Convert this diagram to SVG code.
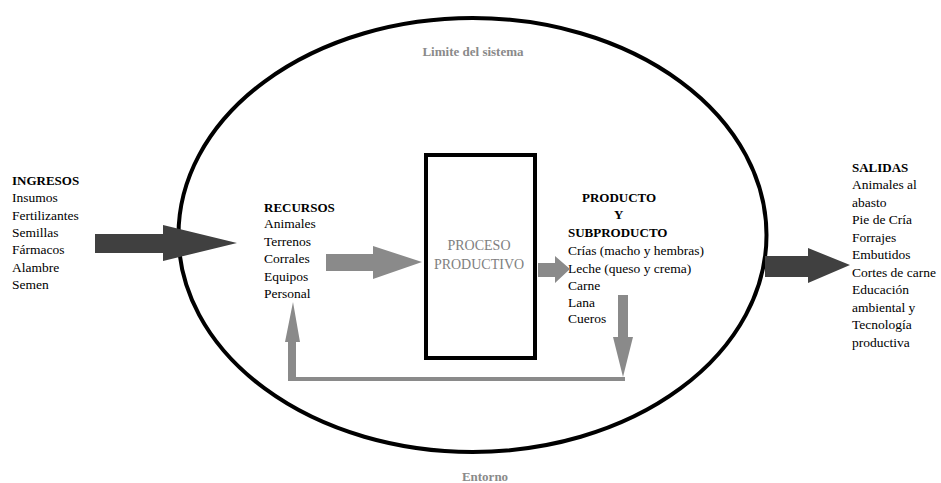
<svg xmlns="http://www.w3.org/2000/svg" width="941" height="483" viewBox="0 0 941 483">
<style>
text{font-family:"Liberation Serif","Times New Roman",serif;font-size:13.5px;fill:#000}
.h{font-weight:bold;font-size:13px}
.g{fill:#8a8a8a;font-weight:bold;font-size:13px}
.pp{fill:#808080;font-size:14px}
.dark{fill:#404040}
.gray{fill:#8a8a8a}
</style>
<rect width="941" height="483" fill="#fff"/>
<g id="boundary">
<ellipse cx="472.5" cy="235" rx="294" ry="217" fill="none" stroke="#000" stroke-width="4"/>
<text class="g" x="473" y="56" text-anchor="middle">Limite del sistema</text>
<text class="g" x="485" y="481" text-anchor="middle">Entorno</text>
</g>
<g id="ingresos">
<text class="h" x="12" y="185">INGRESOS</text>
<text x="12" y="202">Insumos</text>
<text x="12" y="220">Fertilizantes</text>
<text x="12" y="237">Semillas</text>
<text x="12" y="254">Fármacos</text>
<text x="12" y="272">Alambre</text>
<text x="12" y="289">Semen</text>
</g>
<g id="recursos">
<text class="h" x="264" y="212">RECURSOS</text>
<text x="264" y="228">Animales</text>
<text x="264" y="246">Terrenos</text>
<text x="264" y="263">Corrales</text>
<text x="264" y="281">Equipos</text>
<text x="264" y="298">Personal</text>
</g>
<g id="proceso">
<rect x="426" y="155" width="109" height="203" fill="none" stroke="#000" stroke-width="4"/>
<text class="pp" x="479" y="250" text-anchor="middle">PROCESO</text>
<text class="pp" x="479" y="269" text-anchor="middle">PRODUCTIVO</text>
</g>
<g id="producto">
<text class="h" x="582" y="202">PRODUCTO</text>
<text class="h" x="614" y="219">Y</text>
<text class="h" x="568" y="237">SUBPRODUCTO</text>
<text x="568" y="255">Crías (macho y hembras)</text>
<text x="568" y="273">Leche (queso y crema)</text>
<text x="568" y="290">Carne</text>
<text x="568" y="307">Lana</text>
<text x="568" y="323">Cueros</text>
</g>
<g id="salidas">
<text class="h" x="852" y="172">SALIDAS</text>
<text x="852" y="189">Animales al</text>
<text x="852" y="207">abasto</text>
<text x="852" y="224">Pie de Cría</text>
<text x="852" y="242">Forrajes</text>
<text x="852" y="259">Embutidos</text>
<text x="852" y="277">Cortes de carne</text>
<text x="852" y="294">Educación</text>
<text x="852" y="312">ambiental y</text>
<text x="852" y="329">Tecnología</text>
<text x="852" y="347">productiva</text>
</g>
<g id="connectors">
<polygon class="dark" points="95,234 163,234 163,225 237,243 163,261 163,253 95,253"/>
<polygon class="gray" points="326,254 373,254 373,246 422,262 373,279 373,271 326,271"/>
<polygon class="gray" points="538,263 555,263 555,256 570,269 555,283 555,277 538,277"/>
<polygon class="dark" points="765,256 808,256 808,248 850,265 808,283 808,277 765,277"/>
<polygon class="gray" points="618,295 628,295 628,337 633,337 623,377 613,337 618,337"/>
<polygon class="gray" points="288,381 288,342 285,342 293,302 300,342 296,342 296,377 625,377 625,381"/>
</g>
</svg>
